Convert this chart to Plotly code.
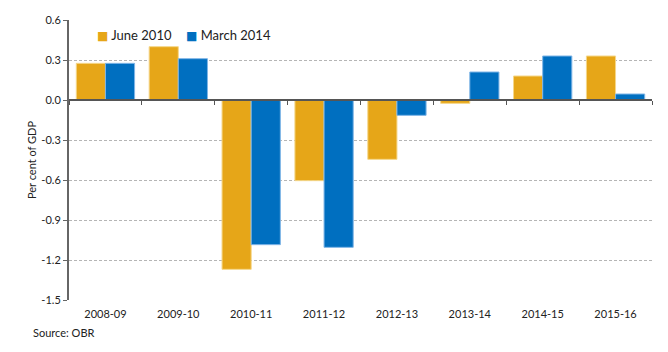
import plotly.graph_objects as go

categories = ["2008-09", "2009-10", "2010-11", "2011-12", "2012-13", "2013-14", "2014-15", "2015-16"]
series_names = ["June 2010", "March 2014"]
june_2010 = [0.275, 0.40, -1.27, -0.605, -0.445, -0.025, 0.18, 0.33]
march_2014 = [0.275, 0.31, -1.085, -1.105, -0.115, 0.21, 0.33, 0.045]
y_ticks = [0.6, 0.3, 0.0, -0.3, -0.6, -0.9, -1.2, -1.5]
y_range = [-1.5, 0.6]

FONT = "Lato, 'Open Sans', sans-serif"
ORANGE = "#E6A618"
BLUE = "#006FC0"
colors = [ORANGE, BLUE]
edges = ["#F5D78A", "#7FB5E6"]

fig = go.Figure()
for name, vals, c, e in zip(series_names, [june_2010, march_2014], colors, edges):
    fig.add_trace(go.Bar(x=categories, y=vals, name=name, showlegend=False,
                         marker=dict(color=c, line=dict(color=e, width=1))))
# invisible trace carrying the zero-crossing axis with ticks at category boundaries
fig.add_trace(go.Scatter(x=[0, len(categories)], y=[0, 0], xaxis="x2", mode="lines",
                         line=dict(width=0), showlegend=False, hoverinfo="skip"))

zero_pos = (0 - y_range[0]) / (y_range[1] - y_range[0])

legend_x = [0.045, 0.198]
annotations = [dict(text=f"<span style='color:{c};font-family:DejaVu Sans;font-size:12px'>■</span> {n}",
                    xref="paper", yref="paper", x=lx, y=0.947, xanchor="left", yanchor="middle",
                    showarrow=False, font=dict(size=13, color="#222"))
               for n, c, lx in zip(series_names, colors, legend_x)]
annotations.append(dict(text="Source: OBR", xref="paper", yref="paper", x=-0.065, y=-0.085,
                        xanchor="left", yanchor="top", showarrow=False, font=dict(size=11)))

fig.update_layout(
    width=668, height=352,
    margin=dict(l=69, r=16, t=20, b=52),
    paper_bgcolor="white", plot_bgcolor="white",
    barmode="group", bargap=0.2, bargroupgap=0,
    font=dict(family=FONT, size=11, color="#222"),
    showlegend=False,
    xaxis=dict(type="category", showline=False, ticks="", showgrid=False,
               tickfont=dict(size=11), ticklabelstandoff=6),
    xaxis2=dict(overlaying="x", anchor="free", position=zero_pos, range=[0, len(categories)],
                tickvals=list(range(len(categories) + 1)), showticklabels=False,
                ticks="outside", ticklen=4, tickcolor="#555", showline=True,
                linecolor="#555", linewidth=1.5, showgrid=False, zeroline=False),
    yaxis=dict(range=y_range, tickvals=y_ticks, ticktext=[f"{v:.1f}" for v in y_ticks],
               showline=True, linecolor="#666", linewidth=2, ticks="outside", ticklen=4,
               tickcolor="#666", showgrid=True, gridcolor="#B5B5B5", griddash="3px,2px",
               gridwidth=1, zeroline=False, tickfont=dict(size=11),
               title=dict(text="Per cent of GDP", font=dict(size=11), standoff=2)),
    annotations=annotations,
)

fig.write_html("out.html")
